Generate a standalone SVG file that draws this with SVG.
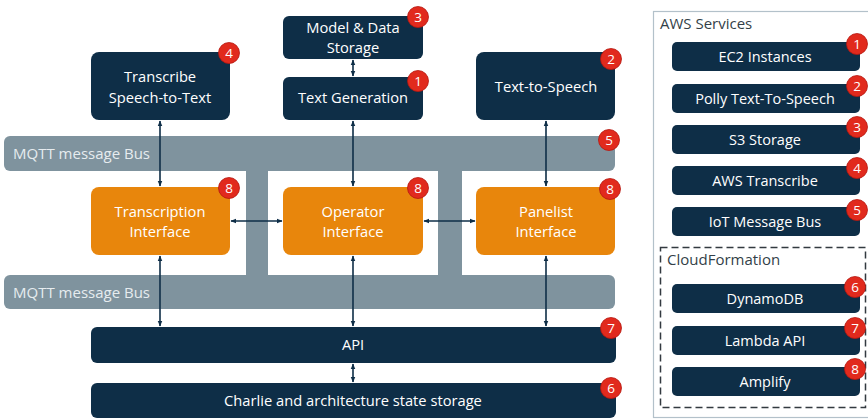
<svg xmlns="http://www.w3.org/2000/svg" width="868" height="420" viewBox="0 0 868 420">
<defs>
<style>
.nav{fill:#0e2e47}
.org{fill:#e8860c}
.bus{fill:#7f939e}
.t{font-family:"Open Sans","Liberation Sans",sans-serif;font-size:14.7px;fill:#ffffff;text-anchor:middle}
.ts{font-family:"Open Sans","Liberation Sans",sans-serif;font-size:14.5px;fill:#ffffff;text-anchor:middle}
.bl{font-family:"Open Sans","Liberation Sans",sans-serif;font-size:15px;fill:#e6ecef}
.hd{font-family:"Open Sans","Liberation Sans",sans-serif;font-size:15px;fill:#333f48}
.bc{fill:#e12a1d;stroke:#b5170f;stroke-width:0.8}
.bt{font-family:"Open Sans","Liberation Sans",sans-serif;font-size:13.5px;fill:#ffffff;text-anchor:middle}
.ln{stroke:#0e2e47;stroke-width:1.6;fill:none;marker-start:url(#ah);marker-end:url(#ah)}
</style>
<marker id="ah" viewBox="0 0 10 10" refX="9" refY="5" markerWidth="6" markerHeight="6" orient="auto-start-reverse" markerUnits="userSpaceOnUse">
<path d="M0,1 L10,5 L0,9 Z" fill="#0e2e47"/>
</marker>
</defs>
<rect width="868" height="420" fill="#ffffff"/>

<g id="mqtt-bus">
<rect class="bus" x="4" y="136" width="611" height="35" rx="6"/>
<rect class="bus" x="4" y="275" width="611" height="34" rx="6"/>
<rect class="bus" x="246" y="168" width="22" height="110"/>
<rect class="bus" x="438" y="168" width="24" height="110"/>
<text class="bl" x="13" y="159">MQTT message Bus</text>
<text class="bl" x="13" y="298">MQTT message Bus</text>
<circle class="bc" cx="609" cy="140" r="10.5"/><text class="bt" x="609" y="144.5">5</text>
</g>

<g id="model-storage">
<rect class="nav" x="283" y="16" width="140" height="43" rx="6"/>
<text class="t" x="353" y="33">Model &amp; Data</text>
<text class="t" x="353" y="53">Storage</text>
<circle class="bc" cx="418" cy="17" r="10.5"/><text class="bt" x="418" y="21.5">3</text>
</g>

<g id="transcribe">
<rect class="nav" x="91" y="52" width="139" height="68" rx="8"/>
<text class="t" x="160" y="82">Transcribe</text>
<text class="t" x="160" y="103">Speech-to-Text</text>
<circle class="bc" cx="229" cy="53" r="10.5"/><text class="bt" x="229" y="57.5">4</text>
</g>

<g id="text-generation">
<rect class="nav" x="283" y="77" width="140" height="43" rx="6"/>
<text class="t" x="353" y="103">Text Generation</text>
<circle class="bc" cx="418" cy="81" r="10.5"/><text class="bt" x="418" y="85.5">1</text>
</g>

<g id="text-to-speech">
<rect class="nav" x="476" y="52" width="139" height="68" rx="8"/>
<text class="t" x="546" y="92">Text-to-Speech</text>
<circle class="bc" cx="611" cy="59" r="10.5"/><text class="bt" x="611" y="63.5">2</text>
</g>

<g id="transcription-interface">
<rect class="org" x="91" y="187" width="139" height="68" rx="8"/>
<text class="t" x="160" y="217">Transcription</text>
<text class="t" x="160" y="237">Interface</text>
<circle class="bc" cx="229" cy="188" r="10.5"/><text class="bt" x="229" y="192.5">8</text>
</g>

<g id="operator-interface">
<rect class="org" x="283" y="187" width="140" height="68" rx="8"/>
<text class="t" x="353" y="217">Operator</text>
<text class="t" x="353" y="237">Interface</text>
<circle class="bc" cx="418" cy="188" r="10.5"/><text class="bt" x="418" y="192.5">8</text>
</g>

<g id="panelist-interface">
<rect class="org" x="476" y="187" width="139" height="68" rx="8"/>
<text class="t" x="546" y="217">Panelist</text>
<text class="t" x="546" y="237">Interface</text>
<circle class="bc" cx="610" cy="189" r="10.5"/><text class="bt" x="610" y="193.5">8</text>
</g>

<g id="api">
<rect class="nav" x="91" y="327" width="525" height="36" rx="6"/>
<text class="t" x="353" y="350">API</text>
<circle class="bc" cx="611" cy="328" r="10.5"/><text class="bt" x="611" y="332.5">7</text>
</g>

<g id="state-storage">
<rect class="nav" x="91" y="383" width="525" height="35" rx="6"/>
<text class="t" x="353" y="406">Charlie and architecture state storage</text>
<circle class="bc" cx="611" cy="388" r="10.5"/><text class="bt" x="611" y="392.5">6</text>
</g>

<g id="connectors">
<line class="ln" x1="353" y1="60" x2="353" y2="76"/>
<line class="ln" x1="160" y1="121" x2="160" y2="186"/>
<line class="ln" x1="353" y1="121" x2="353" y2="186"/>
<line class="ln" x1="546" y1="121" x2="546" y2="186"/>
<line class="ln" x1="231" y1="221" x2="282" y2="221"/>
<line class="ln" x1="424" y1="221" x2="475" y2="221"/>
<line class="ln" x1="160" y1="256" x2="160" y2="326"/>
<line class="ln" x1="353" y1="256" x2="353" y2="326"/>
<line class="ln" x1="546" y1="256" x2="546" y2="326"/>
<line class="ln" x1="353" y1="364" x2="353" y2="382"/>
</g>

<g id="aws-services">
<rect x="653.5" y="11.5" width="220" height="406" fill="none" stroke="#b3c1ca" stroke-width="1.2"/>
<text class="hd" x="660" y="29">AWS Services</text>
</g>
<g id="ec2">
<rect class="nav" x="672" y="42" width="188" height="29" rx="5"/>
<text class="ts" x="765" y="61.5">EC2 Instances</text>
<circle class="bc" cx="857" cy="44" r="10.5"/><text class="bt" x="857" y="48.5">1</text>
</g>
<g id="polly">
<rect class="nav" x="672" y="84" width="188" height="29" rx="5"/>
<text class="ts" x="765" y="103.5">Polly Text-To-Speech</text>
<circle class="bc" cx="857" cy="86" r="10.5"/><text class="bt" x="857" y="90.5">2</text>
</g>
<g id="s3">
<rect class="nav" x="672" y="125" width="188" height="29" rx="5"/>
<text class="ts" x="765" y="144.5">S3 Storage</text>
<circle class="bc" cx="857" cy="127" r="10.5"/><text class="bt" x="857" y="131.5">3</text>
</g>
<g id="aws-transcribe">
<rect class="nav" x="672" y="166" width="188" height="29" rx="5"/>
<text class="ts" x="765" y="185.5">AWS Transcribe</text>
<circle class="bc" cx="857" cy="168" r="10.5"/><text class="bt" x="857" y="172.5">4</text>
</g>
<g id="iot">
<rect class="nav" x="672" y="207" width="188" height="29" rx="5"/>
<text class="ts" x="765" y="226.5">IoT Message Bus</text>
<circle class="bc" cx="857" cy="210" r="10.5"/><text class="bt" x="857" y="214.5">5</text>
</g>
<g id="cloudformation">
<rect x="660.5" y="247.5" width="205" height="160" fill="none" stroke="#333a40" stroke-width="1.5" stroke-dasharray="7 4"/>
<text class="hd" x="667" y="265">CloudFormation</text>
</g>
<g id="dynamodb">
<rect class="nav" x="672" y="284" width="188" height="29" rx="5"/>
<text class="ts" x="765" y="303.5">DynamoDB</text>
<circle class="bc" cx="855" cy="287" r="10.5"/><text class="bt" x="855" y="291.5">6</text>
</g>
<g id="lambda">
<rect class="nav" x="672" y="326" width="188" height="29" rx="5"/>
<text class="ts" x="765" y="345.5">Lambda API</text>
<circle class="bc" cx="855" cy="328" r="10.5"/><text class="bt" x="855" y="332.5">7</text>
</g>
<g id="amplify">
<rect class="nav" x="672" y="367" width="188" height="29" rx="5"/>
<text class="ts" x="765" y="386.5">Amplify</text>
<circle class="bc" cx="855" cy="369" r="10.5"/><text class="bt" x="855" y="373.5">8</text>
</g>
</svg>
